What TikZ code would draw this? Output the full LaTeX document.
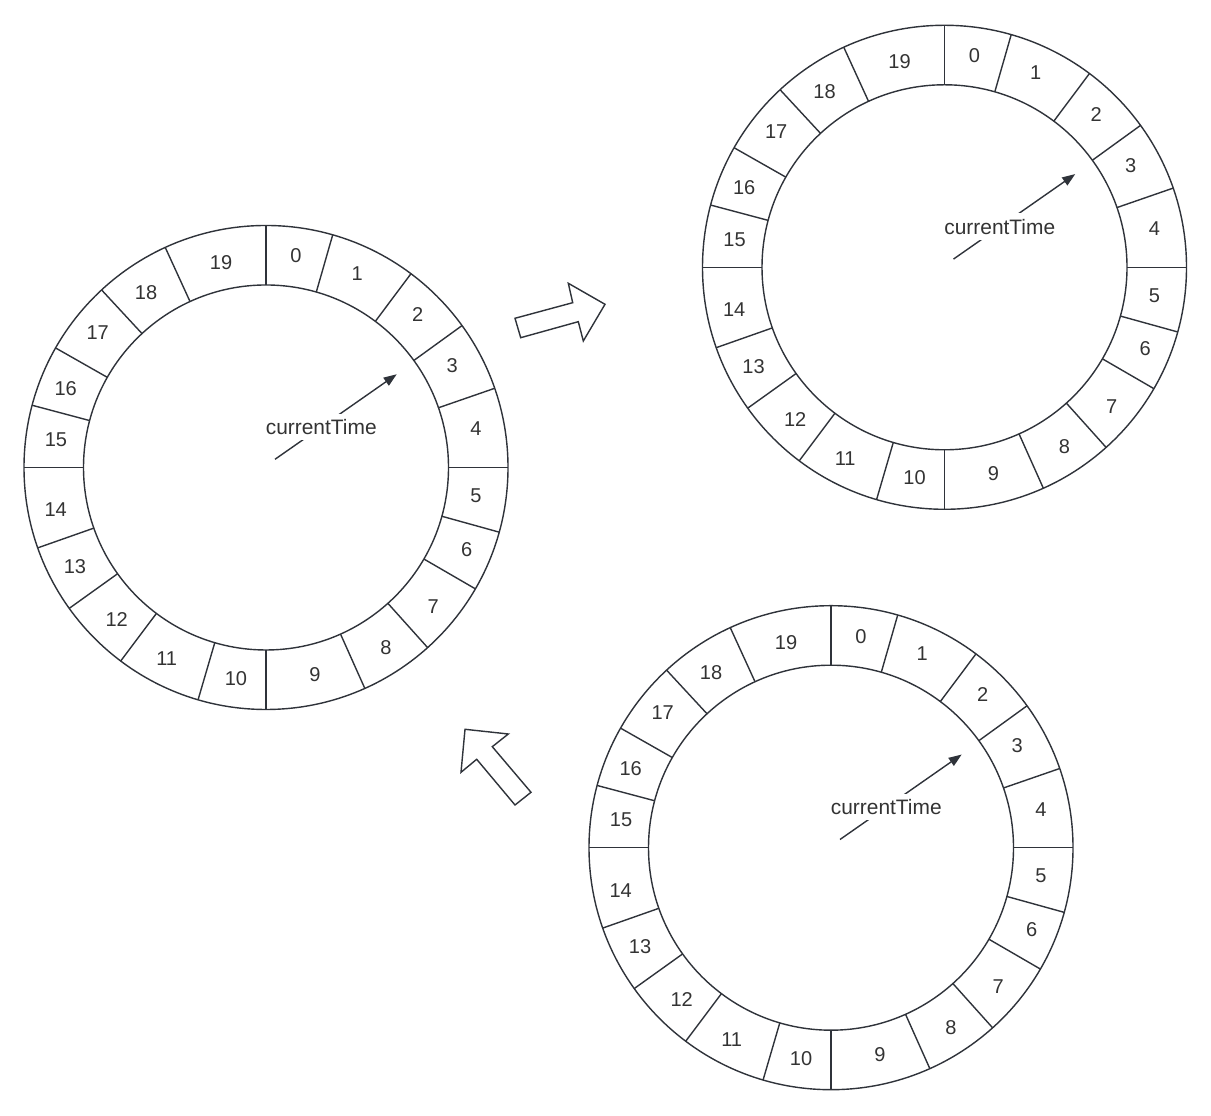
\documentclass[tikz,border=0pt]{standalone}
\usepackage{fontspec}
\setmainfont{Liberation Sans}
\usetikzlibrary{arrows.meta, calc}
\definecolor{cline}{HTML}{2F333A}
\definecolor{ctext}{HTML}{333333}
\tikzset{
  every picture/.style={line width=0.8pt},
  ring/.style={draw=cline},
  divider/.style={draw=cline},
  slot/.style={font=\fontsize{11.4}{13}\selectfont, text=ctext, inner sep=0pt},
  pointer/.style={-{Triangle[length=2.6mm, width=1.9mm]}, draw=cline},
  clock/.style={font=\fontsize{11.9}{13}\selectfont, text=ctext, fill=white, inner sep=3.2pt},
  blockarrow/.style={draw=cline, fill=white, line join=miter},
}

\begin{document}
\begin{tikzpicture}
  \useasboundingbox (0,0) rectangle (24.22,22.32);
  % three copies of the 20-slot wheel
  \foreach \w/\cx/\cy in {w1/5.32/12.97, w2/18.89/16.974, w3/16.62/5.366} {
    \begin{scope}[shift={(\cx,\cy)}]
      \draw[ring] (0,0) circle (4.84);
      \draw[ring] (0,0) circle (3.65);
      % slot borders, compass angles
      \foreach \a in {0, 16, 36.8, 54.1, 70.9, 90, 105.5, 120.1, 138.1, 155.9,
                      180, 196.3, 216.9, 234.4, 250.6, 270, 284.9, 299.6, 317.2, 335.4}
        \draw[divider] ({90-\a}:3.65) -- ({90-\a}:4.84);
      % slot numbers
      \foreach \n/\x/\y in {0/0.60/4.23, 1/1.826/3.884, 2/3.034/3.064, 3/3.726/2.036,
                            4/4.20/0.77, 5/4.20/-0.57, 6/4.014/-1.636, 7/3.346/-2.784,
                            8/2.40/-3.596, 9/0.98/-4.136, 10/-0.60/-4.216, 11/-1.986/-3.83,
                            12/-2.986/-3.036, 13/-3.82/-1.984, 14/-4.206/-0.85, 15/-4.20/0.55,
                            16/-4.006/1.584, 17/-3.366/2.704, 18/-2.40/3.504, 19/-0.90/4.104}
        \node[slot] (\w-s\n) at (\x,\y) {\n};
      % the pointer
      \coordinate (\w-tail) at (0.18,0.164);
      \coordinate (\w-tip) at (2.614,1.864);
      \draw[pointer] (\w-tail) -- node[clock, pos=0.38] (\w-cur) {currentTime} (\w-tip);
    \end{scope}
  }
  % hollow arrows between the wheels
  \draw[blockarrow] (10.414,15.566) -- (10.30,15.954) -- (11.454,16.266) -- (11.366,16.654)
    -- (12.10,16.234) -- (11.666,15.50) -- (11.566,15.886) -- cycle;
  \draw[blockarrow] (10.30,6.22) -- (9.534,7.134) -- (9.22,6.874) -- (9.30,7.734)
    -- (10.166,7.64) -- (9.846,7.386) -- (10.62,6.474) -- cycle;
\end{tikzpicture}
\end{document}
